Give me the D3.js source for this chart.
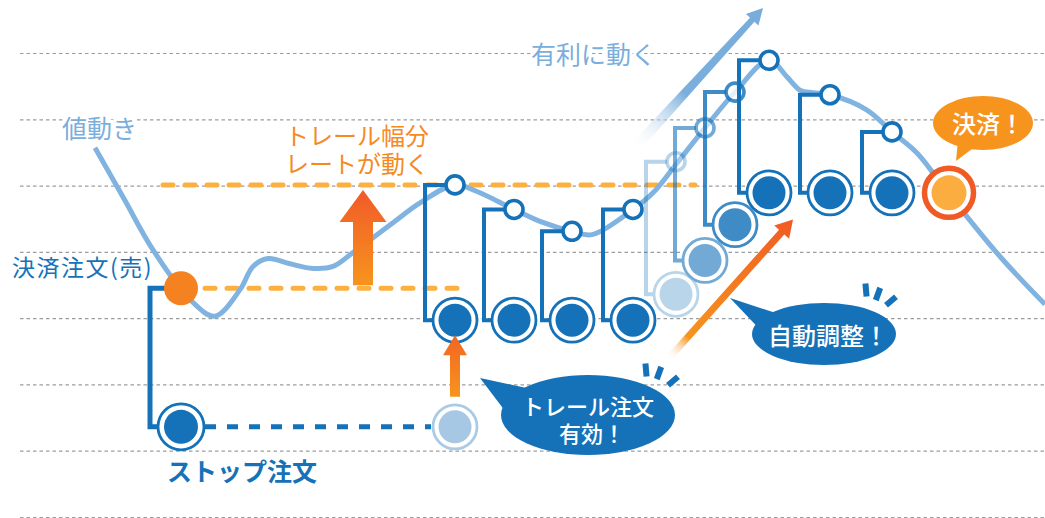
<!DOCTYPE html>
<html>
<head>
<meta charset="utf-8">
<script src="https://cdn.jsdelivr.net/npm/d3@7"></script>
<style>
body { margin: 0; background: #fff; }
svg { display: block; font-family: "Noto Sans CJK JP", "Noto Sans", sans-serif; }
</style>
</head>
<body>
<script>
// Price levels of the dashed guide lines
var gridLevels = [0, 1, 2, 3, 4, 5, 6, 7];

// Price movement (time step, price level)
var priceT = [7.5, 10.4, 13.3, 17.0, 19.5, 22.0, 23.3, 24.8, 27.0, 29.3, 31.3, 33.3, 37.3, 40.0, 43.5,
              45.7, 49.4, 52.0, 55.2, 57.2, 61.3, 63.3, 65.7, 68.5, 71.5, 74.9, 76.7, 78.0, 79.3, 81.0,
              84.7, 87.2, 89.7, 92.8, 98.0, 102.5];
var priceV = [5.57, 4.80, 4.03, 3.28, 3.03, 3.43, 3.78, 3.90, 3.82, 3.75, 3.78, 3.99, 4.44, 4.74, 5.01,
              4.91, 4.64, 4.46, 4.31, 4.26, 4.64, 4.89, 5.34, 5.87, 6.41, 6.89, 6.64, 6.44, 6.40, 6.37,
              6.14, 5.81, 5.49, 4.89, 3.93, 3.21];

// Initial orders: settlement order (sell) and stop order
var orderT = 16.1;
var settleLevel = 3.45;
var stopLevel = 1.36;
var activateT = 43.5;   // where the trail order becomes active

// Trail steps: rate reaches trailTop, stop follows to trailStop
var trailT    = [43.5, 49.4, 55.2, 61.3, 65.6, 68.5, 71.5, 74.9, 81.0, 87.2];
var trailTop  = [5.01, 4.64, 4.31, 4.64, 5.36, 5.87, 6.41, 6.89, 6.37, 5.81];
var trailStop = [2.97, 2.97, 2.97, 2.97, 3.36, 3.87, 4.41, 4.89, 4.89, 4.89];

// Final execution
var doneT = 92.9;
var doneV = 4.89;

// trail width guide lines (orange dashed)
var guideT0 = [18.5, 14.3];
var guideT1 = [43.7, 67.5];
var guideV  = [3.45, 5.01];

// ---------------------------------------------------------------------------
var width = 1045, height = 518;
var blue = "#1572b9", lineBlue = "#80b3e0", orange = "#f58220";

var svg = d3.select("body").append("svg")
    .attr("width", width)
    .attr("height", height);

var x = d3.scaleLinear().domain([0, 102.5]).range([20, 1045]);
var y = d3.scaleLinear().domain([0, 7]).range([517, 53]);

var defs = svg.append("defs");
function vGrad(id, top, bottom) {
    var g = defs.append("linearGradient").attr("id", id)
        .attr("x1", 0).attr("y1", 0).attr("x2", 0).attr("y2", 1);
    g.append("stop").attr("offset", 0).attr("stop-color", top);
    g.append("stop").attr("offset", 1).attr("stop-color", bottom);
}
vGrad("upBig", "#f15a29", "#f7941d");
vGrad("upSmall", "#f26522", "#f7941d");

function dGrad(id, x0, y0, x1, y1, stops) {
    var g = defs.append("linearGradient").attr("id", id)
        .attr("gradientUnits", "userSpaceOnUse")
        .attr("x1", x0).attr("y1", y0).attr("x2", x1).attr("y2", y1);
    stops.forEach(function(s) {
        g.append("stop").attr("offset", s[0]).attr("stop-color", s[1]).attr("stop-opacity", s[2]);
    });
}

// arrow outline: tail (x0,y0) -> tip (x1,y1)
function arrowPts(x0, y0, x1, y1, w0, w1, hw, hl) {
    var dx = x1 - x0, dy = y1 - y0, L = Math.hypot(dx, dy);
    var ux = dx / L, uy = dy / L, nx = -uy, ny = ux;
    var bx = x1 - ux * hl, by = y1 - uy * hl;
    return [[x0 + nx * w0 / 2, y0 + ny * w0 / 2], [bx + nx * w1 / 2, by + ny * w1 / 2],
            [bx + nx * hw / 2, by + ny * hw / 2], [x1, y1],
            [bx - nx * hw / 2, by - ny * hw / 2], [bx - nx * w1 / 2, by - ny * w1 / 2],
            [x0 - nx * w0 / 2, y0 - ny * w0 / 2]];
}
var poly = d3.line();

// Grid lines
var grid = svg.append("g")
    .attr("transform", "translate(20,0)")
    .call(d3.axisLeft(y).tickValues(gridLevels).tickSize(-(width - 20)).tickFormat(""));
grid.select(".domain").remove();
grid.selectAll("line")
    .attr("stroke", "#9d9d9d")
    .attr("stroke-width", 1.2)
    .attr("stroke-dasharray", "3.5,3");

// Orange guide lines
svg.selectAll("line.guide")
    .data(guideV)
    .enter()
    .append("line")
    .attr("class", "guide")
    .attr("x1", function(d, i) { return x(guideT0[i]); })
    .attr("x2", function(d, i) { return x(guideT1[i]); })
    .attr("y1", function(d) { return y(d); })
    .attr("y2", function(d) { return y(d); })
    .attr("stroke", "#fbb040")
    .attr("stroke-width", 5)
    .attr("stroke-linecap", "round")
    .attr("stroke-dasharray", "10,12");

// Price line
var priceLine = d3.line()
    .x(function(d, i) { return x(priceT[i]); })
    .y(function(d) { return y(d); })
    .curve(d3.curveCatmullRom.alpha(0.5));
svg.append("path")
    .attr("d", priceLine(priceV))
    .attr("fill", "none")
    .attr("stroke", lineBlue)
    .attr("stroke-width", 5);

// Big up arrow (trail width)
var bigX = x(34.3);
svg.append("path")
    .attr("d", poly(arrowPts(bigX, y(settleLevel) - 3, bigX, y(trailTop[0]) + 5, 20, 20, 47, 32)) + "Z")
    .attr("fill", "url(#upBig)");

// "moves favourably" arrow
var bx0 = x(61.3), by0 = y(5.54), bx1 = x(74.3), by1 = y(7.68);
dGrad("blueDiag", bx0, by0, bx1, by1, [[0, "#ffffff", 0], [0.4, "#7aaedc", 1], [1, "#78acdb", 1]]);
svg.append("path")
    .attr("d", poly(arrowPts(bx0, by0, bx1, by1, 11, 6, 17, 16)) + "Z")
    .attr("fill", "url(#blueDiag)");

// Stop order dashed link to activation point
svg.append("line")
    .attr("x1", x(orderT) + 24).attr("x2", x(activateT) - 24)
    .attr("y1", y(stopLevel)).attr("y2", y(stopLevel))
    .attr("stroke", blue)
    .attr("stroke-width", 5)
    .attr("stroke-dasharray", "11,11");

// Initial bracket
svg.append("path")
    .attr("d", poly([[x(orderT), y(settleLevel)], [x(13), y(settleLevel)], [x(13), y(stopLevel)], [x(orderT), y(stopLevel)]]))
    .attr("fill", "none")
    .attr("stroke", blue)
    .attr("stroke-width", 5);

function ringCircle(cx, cy, col, rOut, rIn) {
    svg.append("circle").attr("cx", cx).attr("cy", cy).attr("r", rOut)
        .attr("fill", "#fff").attr("stroke", col).attr("stroke-width", 2.8);
    svg.append("circle").attr("cx", cx).attr("cy", cy).attr("r", rIn).attr("fill", col);
}

svg.append("circle")
    .attr("cx", x(orderT)).attr("cy", y(settleLevel)).attr("r", 17)
    .attr("fill", orange);
ringCircle(x(orderT), y(stopLevel), blue, 23, 17);

// light activation point
svg.append("circle").attr("cx", x(activateT)).attr("cy", y(stopLevel)).attr("r", 22)
    .attr("fill", "#fff").attr("stroke", "#a9cbe6").attr("stroke-width", 2.8);
svg.append("circle").attr("cx", x(activateT)).attr("cy", y(stopLevel)).attr("r", 16.5)
    .attr("fill", "#a6c8e5");

// Trail brackets
var fade = [1, 1, 1, 1, 0.3, 0.6, 0.82, 1, 1, 1];
trailT.forEach(function(t, i) {
    var cx = x(t), ty = y(trailTop[i]), sy = y(trailStop[i]), lx = cx - 30;
    var op = fade[i];
    var col = d3.interpolateRgb("#ffffff", blue)(op);
    var g = svg.append("g");
    g.append("path")
        .attr("d", poly([[cx - 9, ty], [lx, ty], [lx, sy], [cx, sy]]))
        .attr("fill", "none")
        .attr("stroke", blue)
        .attr("stroke-width", 4)
        .attr("opacity", op);
    g.append("circle")
        .attr("cx", cx).attr("cy", ty).attr("r", 9)
        .attr("fill", "#fff").attr("stroke", blue).attr("stroke-width", 3.6)
        .attr("opacity", op);
    g.append("circle").attr("cx", cx).attr("cy", sy).attr("r", 22)
        .attr("fill", "#fff").attr("stroke", col).attr("stroke-width", 2.8);
    g.append("circle").attr("cx", cx).attr("cy", sy).attr("r", 16.5).attr("fill", col);
});

// Execution
svg.append("circle").attr("cx", x(doneT)).attr("cy", y(doneV)).attr("r", 24.5)
    .attr("fill", "#fff").attr("stroke", "#f05a24").attr("stroke-width", 5.5);
svg.append("circle").attr("cx", x(doneT)).attr("cy", y(doneV)).attr("r", 17.5)
    .attr("fill", "#fbae3f");

// Small up arrow (trail activated), tip pokes into the ring above it
var ax = x(activateT);
svg.append("path")
    .attr("d", poly(arrowPts(ax, y(stopLevel) - 30, ax, y(trailStop[0]) + 15, 10, 10, 24, 20)) + "Z")
    .attr("fill", "url(#upSmall)");

// Auto-adjust arrow
var ox0 = x(64.8), oy0 = y(2.38), ox1 = x(77.3), oy1 = y(4.49);
dGrad("orangeDiag", ox0, oy0, ox1, oy1, [[0, "#ffffff", 0], [0.16, "#f7941d", 1], [1, "#f15a24", 1]]);
svg.append("path")
    .attr("d", poly(arrowPts(ox0, oy0, ox1, oy1, 7, 7, 20, 17)) + "Z")
    .attr("fill", "url(#orangeDiag)");

// Speech bubbles
function bubble(cx, cy, rx, ry, tail, col) {
    svg.append("path").attr("d", poly(tail) + "Z").attr("fill", col);
    svg.append("ellipse").attr("cx", cx).attr("cy", cy).attr("rx", rx).attr("ry", ry).attr("fill", col);
}
bubble(588, 415, 87, 40, [[480, 378], [545, 392], [512, 420]], blue);
bubble(824, 334, 72, 31, [[730, 298], [785, 316], [768, 338]], blue);
bubble(983, 123, 50, 27, [[956, 161], [958, 140], [980, 143]], "#f7941d");

// emphasis marks
function marks(list) {
    list.forEach(function(m) {
        var a = m[2] * Math.PI / 180, dx = Math.cos(a) * 6.5, dy = -Math.sin(a) * 6.5;
        svg.append("line")
            .attr("x1", m[0] - dx).attr("y1", m[1] - dy)
            .attr("x2", m[0] + dx).attr("y2", m[1] + dy)
            .attr("stroke", blue).attr("stroke-width", 6);
    });
}
marks([[646, 370, 95], [659, 373, 70], [673, 381, 40]]);
marks([[866, 290, 95], [878, 294, 70], [891, 301, 40]]);

// Texts (multi-line labels share one text element)
function label(lines, tx, ty, lh, size, col, anchor, weight, halo) {
    var t = svg.append("text")
        .attr("x", tx).attr("y", ty)
        .attr("font-size", size + "px")
        .attr("fill", col)
        .attr("text-anchor", anchor)
        .attr("dominant-baseline", "central")
        .attr("font-weight", weight);
    lines.forEach(function(s, i) {
        t.append("tspan")
            .attr("x", tx + (s.dx || 0))
            .attr("dy", i === 0 ? 0 : lh)
            .text(s.text || s);
    });
    if (halo) {
        t.attr("stroke", "#fff").attr("stroke-width", halo).attr("paint-order", "stroke");
    }
    return t;
}
label(["値動き"], 62, 127, 0, 25, "#7aaedc", "start", 400, 6);
label(["有利に動く"], 531, 53, 0, 25, "#7aaedc", "start", 400, 6);
label(["トレール幅分", "レートが動く"], 285, 134, 28, 24, "#f58a1f", "start", 400);
label(["決済注文(売)"], 12, 266, 0, 23, blue, "start", 400, 4).attr("letter-spacing", "1.5px");
label(["ストップ注文"], 167, 470, 0, 25, blue, "start", 700);
label(["トレール注文", {text: "有効！", dx: 4}], 588, 405, 27, 22, "#fff", "middle", 500);
label(["自動調整！"], 828, 334, 0, 24, "#fff", "middle", 500);
label(["決済！"], 988, 122, 0, 24, "#fff", "middle", 500);
</script>
</body>
</html>
